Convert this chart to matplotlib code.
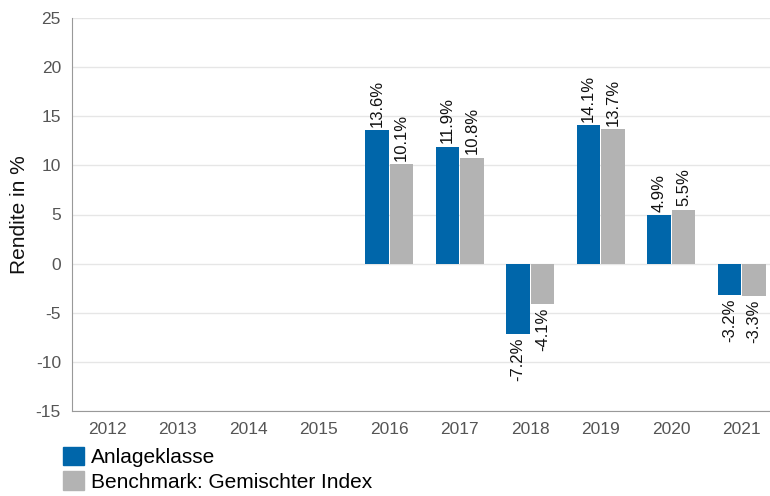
import matplotlib.pyplot as plt
import numpy as np
from matplotlib.patches import Patch

plt.rcParams["font.family"] = ["Liberation Sans", "DejaVu Sans"]
plt.rcParams["axes.unicode_minus"] = False

years = ["2012", "2013", "2014", "2015", "2016", "2017", "2018", "2019", "2020", "2021"]
anlage = [None, None, None, None, 13.6, 11.9, -7.2, 14.1, 4.9, -3.2]
benchmark = [None, None, None, None, 10.1, 10.8, -4.1, 13.7, 5.5, -3.3]
series_names = ["Anlageklasse", "Benchmark: Gemischter Index"]

BLUE = "#0066aa"
GREY = "#b3b3b3"

fig = plt.figure(figsize=(7.7, 4.96), dpi=100)
ax = fig.add_axes([72 / 770, 1 - 411 / 496, 705 / 770, 393 / 496])

x = np.arange(len(years))
w = 0.335
for vals, off, col in [(anlage, -w / 2 - 0.006, BLUE), (benchmark, w / 2 + 0.006, GREY)]:
    for xi, v in zip(x, vals):
        if v is None:
            continue
        ax.bar(xi + off, v, width=w, color=col, zorder=3)
        if v >= 0:
            ax.text(xi + off, v + 0.35, f"{v:.1f}%", rotation=90, ha="center", va="bottom",
                    fontsize=12, color="#111111")
        else:
            ax.text(xi + off, v - 0.35, f"{v:.1f}%", rotation=90, ha="center", va="top",
                    fontsize=12, color="#111111")

ax.set_xlim(-0.5, len(years) - 0.5)
ax.set_ylim(-15, 25)
ax.set_yticks(range(-15, 26, 5))
ax.set_xticks(x)
ax.set_xticklabels(years)
ax.tick_params(length=0, labelsize=12.5, colors="#555555", pad=8)
ax.grid(axis="y", color="#e6e6e6", linewidth=1, zorder=0)
for s in ["top", "right"]:
    ax.spines[s].set_visible(False)
for s in ["left", "bottom"]:
    ax.spines[s].set_color("#999999")
ax.set_ylabel("Rendite in %", fontsize=15, color="#111111", labelpad=5)

handles = [Patch(color=BLUE), Patch(color=GREY)]
fig.legend(handles, series_names, loc="lower left", bbox_to_anchor=(61 / 770, 2 / 496),
           frameon=False, fontsize=15, handlelength=1.0, handleheight=1.0,
           handletextpad=0.35, labelspacing=0.2, borderaxespad=0.0, borderpad=0.1)

fig.savefig("out.png", dpi=100)
